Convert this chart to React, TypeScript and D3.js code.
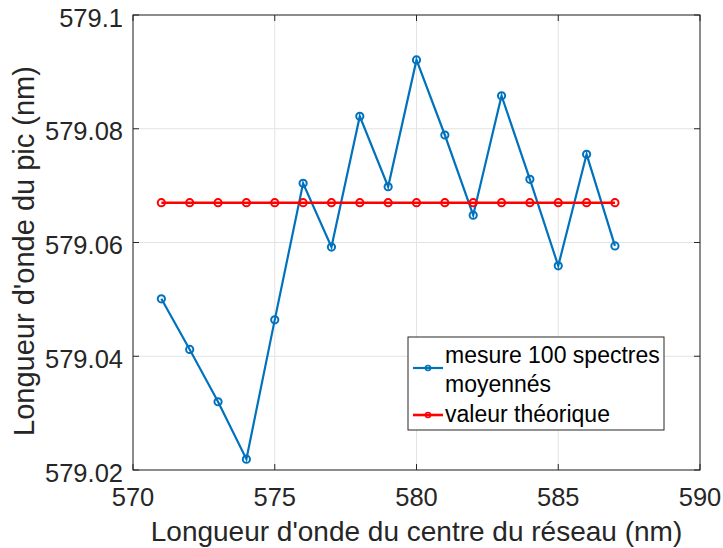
import React from "react";
import * as d3 from "d3";

const xValues = [571, 572, 573, 574, 575, 576, 577, 578, 579, 580, 581, 582, 583, 584, 585, 586, 587];
const measured = [579.0501, 579.0412, 579.032, 579.0219, 579.0464, 579.0704, 579.0592, 579.0822, 579.0698, 579.0921, 579.0789, 579.0648, 579.0858, 579.0711, 579.0559, 579.0755, 579.0594];
const theoretical = [579.067, 579.067, 579.067, 579.067, 579.067, 579.067, 579.067, 579.067, 579.067, 579.067, 579.067, 579.067, 579.067, 579.067, 579.067, 579.067, 579.067];
const xTicks = [570, 575, 580, 585, 590];
const yTicks = [579.02, 579.04, 579.06, 579.08, 579.1];
const yTickLabels = ["579.02", "579.04", "579.06", "579.08", "579.1"];
const seriesNames = ["mesure 100 spectres", "moyennés", "valeur théorique"];
const xLabel = "Longueur d'onde du centre du réseau (nm)";
const yLabel = "Longueur d'onde du pic (nm)";

const W = 723, H = 548;
const L = 133, R = 700, T = 15, B = 470;
const FONT = "'Liberation Sans', Arial, Helvetica, sans-serif";
const AX = "#262626";

export default function App() {
  const x = d3.scaleLinear().domain([570, 590]).range([L, R]);
  const y = d3.scaleLinear().domain([579.02, 579.1]).range([B, T]);
  const line = d3.line<number>().x((_, i) => x(xValues[i])).y((d) => y(d));
  const tl = 6;
  const lgX = 408, lgY = 337, lgW = 256, lgH = 93;
  return (
    <svg width={W} height={H} style={{ position: "absolute", left: 0, top: 0, background: "#fff" }}>
      <rect x={0} y={0} width={W} height={H} fill="#fff" />
      {/* grid */}
      {xTicks.map((t) => (
        <line key={"gx" + t} x1={x(t)} x2={x(t)} y1={T} y2={B} stroke="#e3e3e3" strokeWidth={1} />
      ))}
      {yTicks.map((t) => (
        <line key={"gy" + t} x1={L} x2={R} y1={y(t)} y2={y(t)} stroke="#e3e3e3" strokeWidth={1} />
      ))}
      {/* box */}
      <rect x={L} y={T} width={R - L} height={B - T} fill="none" stroke={AX} strokeWidth={1} />
      {/* ticks */}
      {xTicks.map((t) => (
        <g key={"tx" + t}>
          <line x1={x(t)} x2={x(t)} y1={B} y2={B - tl} stroke={AX} />
          <line x1={x(t)} x2={x(t)} y1={T} y2={T + tl} stroke={AX} />
          <text x={x(t)} y={506} textAnchor="middle" fontFamily={FONT} fontSize={25.5} fill={AX}>{t}</text>
        </g>
      ))}
      {yTicks.map((t, i) => (
        <g key={"ty" + t}>
          <line x1={L} x2={L + tl} y1={y(t)} y2={y(t)} stroke={AX} />
          <line x1={R} x2={R - tl} y1={y(t)} y2={y(t)} stroke={AX} />
          <text x={123} y={y(t) + 11.5} textAnchor="end" fontFamily={FONT} fontSize={25.5} fill={AX}>{yTickLabels[i]}</text>
        </g>
      ))}
      {/* axis labels */}
      <text x={(L + R) / 2} y={541} textAnchor="middle" fontFamily={FONT} fontSize={28} fill={AX}>{xLabel}</text>
      <text transform={`translate(33.5,251) rotate(-90)`} textAnchor="middle" fontFamily={FONT} fontSize={29} fill={AX}>{yLabel}</text>
      {/* series */}
      <path d={line(measured) || ""} fill="none" stroke="#0072BD" strokeWidth={2.2} />
      {measured.map((v, i) => (
        <circle key={"m" + i} cx={x(xValues[i])} cy={y(v)} r={3.6} fill="none" stroke="#0072BD" strokeWidth={2} />
      ))}
      <path d={line(theoretical) || ""} fill="none" stroke="#FF0000" strokeWidth={2.6} />
      {theoretical.map((v, i) => (
        <circle key={"t" + i} cx={x(xValues[i])} cy={y(v)} r={3.6} fill="none" stroke="#FF0000" strokeWidth={2} />
      ))}
      {/* legend */}
      <rect x={lgX} y={lgY} width={lgW} height={lgH} fill="#fff" stroke={AX} strokeWidth={1} />
      <line x1={413} x2={443} y1={368} y2={368} stroke="#0072BD" strokeWidth={2.2} />
      <circle cx={428} cy={368} r={2.5} fill="none" stroke="#0072BD" strokeWidth={1.6} />
      <line x1={413} x2={443} y1={415} y2={415} stroke="#FF0000" strokeWidth={2.6} />
      <circle cx={428} cy={415} r={2.5} fill="none" stroke="#FF0000" strokeWidth={1.6} />
      <text x={445} y={362.5} fontFamily={FONT} fontSize={23} fill="#000">{seriesNames[0]}</text>
      <text x={445} y={391.5} fontFamily={FONT} fontSize={23} fill="#000">{seriesNames[1]}</text>
      <text x={445} y={421.5} fontFamily={FONT} fontSize={23} fill="#000">{seriesNames[2]}</text>
    </svg>
  );
}
